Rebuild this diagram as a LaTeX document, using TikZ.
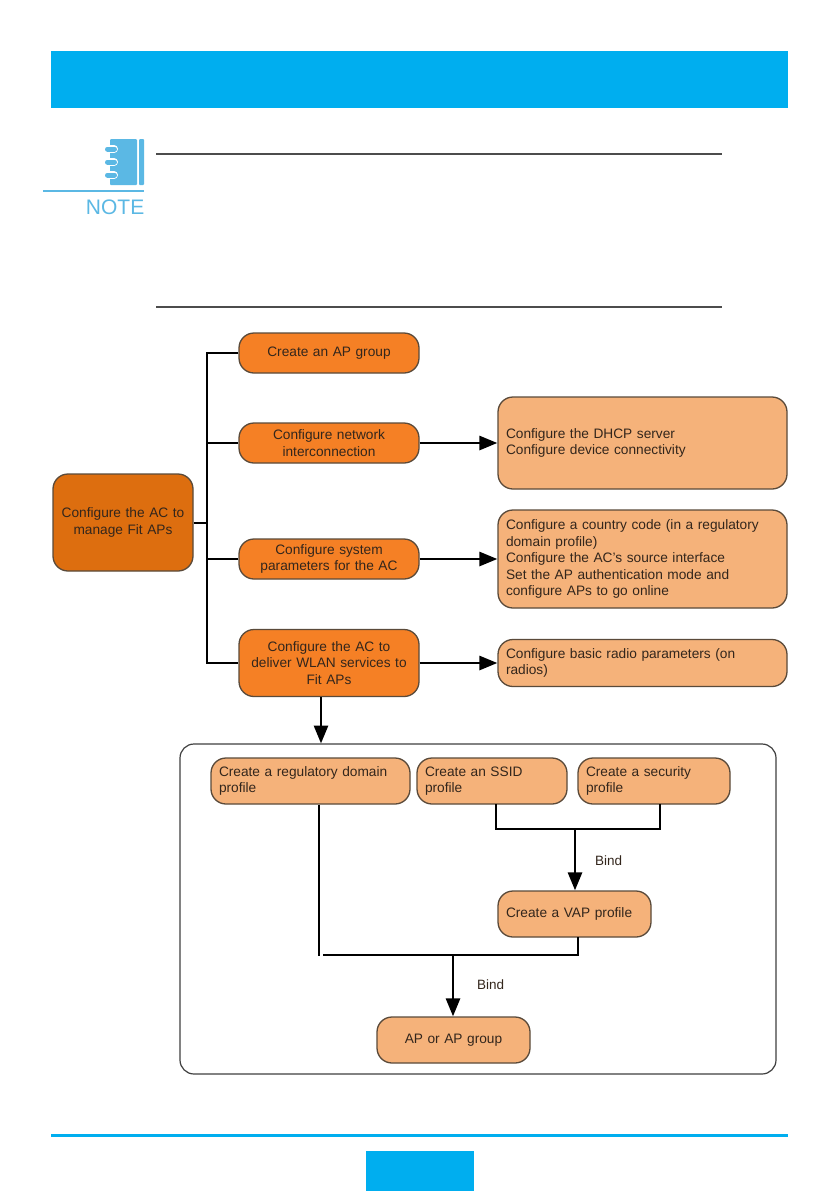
\documentclass[tikz,border=0pt]{standalone}
\usepackage{fontspec}
\setmainfont{Liberation Sans}
\usetikzlibrary{arrows.meta,calc}
\definecolor{hdrblue}{HTML}{00AEEF}
\definecolor{noteblue}{HTML}{5BB8E4}
\definecolor{orangeA}{HTML}{F58025}
\definecolor{orangeB}{HTML}{DD6E0F}
\definecolor{orangeC}{HTML}{F5B27A}
\definecolor{edgeC}{HTML}{5A4A3A}
\definecolor{textC}{HTML}{33261C}
\tikzset{
  x=1pt,y=-1pt,
  basebox/.style={draw=edgeC,line width=1.3pt,rounded corners=15pt,inner ysep=0pt,inner xsep=8pt,
    text=textC,font=\fontsize{13.7}{16.5}\selectfont},
  midbox/.style={basebox,fill=orangeA,align=center},
  rootbox/.style={basebox,fill=orangeB,align=center},
  lightbox/.style={basebox,fill=orangeC,align=left},
  conn/.style={draw=black,line width=2.8pt},
  arr/.style={conn,-{Triangle[length=18pt,width=14pt]}},
  rulegray/.style={draw=black!70,line width=1.4pt},
  lbl/.style={text=textC,font=\fontsize{13.5}{15}\selectfont,inner sep=0pt},
}
\begin{document}
\begin{tikzpicture}
\useasboundingbox (0,0) rectangle (839,1191);
\fill[white] (0,0) rectangle (839,1191);
% page furniture
\fill[hdrblue] (51,51) rectangle (788,108);
\fill[hdrblue] (51,1133.5) rectangle (788,1136.5);
\fill[hdrblue] (366,1151) rectangle (474,1191);
\draw[rulegray] (156,154) -- (722,154);
\draw[rulegray] (156,307) -- (722,307);
% note icon
\fill[noteblue,rounded corners=1pt] (110,139) rectangle (137,185);
\fill[noteblue,rounded corners=1pt] (139,139) rectangle (144,185);
\foreach \yy in {149,162,175}{
  \draw[white,line width=8pt,line cap=round] (108,\yy) -- (114,\yy);
  \draw[noteblue,line width=5pt,line cap=round] (107.5,\yy) -- (114.5,\yy);
}
\fill[noteblue] (43,190) rectangle (144,192);
\node[anchor=base east,text=noteblue,inner sep=0pt,font=\fontsize{21}{21}\selectfont] (notelabel) at (144.5,214.5) {NOTE};
% container
\node[draw=black!75,line width=1.2pt,rounded corners=14pt,minimum width=596pt,minimum height=330pt,inner sep=0pt] (panel) at (478,909) {};
% first tier
\node[rootbox,text width=124pt,minimum height=97pt] (root) at (123,522.5) {Configure the AC to\\manage Fit APs};
\node[midbox,text width=164pt,minimum height=40pt] (apgroup) at (329,353) {Create an AP group};
\node[midbox,text width=164pt,minimum height=40pt] (network) at (329,443) {Configure network\\interconnection};
\node[midbox,text width=164pt,minimum height=40pt] (system) at (329,559) {Configure system\\parameters for the AC};
\node[midbox,text width=164pt,minimum height=67pt] (deliver) at (329,663) {Configure the AC to\\deliver WLAN services to\\Fit APs};
% right tier
\node[lightbox,text width=273pt,minimum height=92pt] (dhcp) at (642.5,443) {Configure the DHCP server\\Configure device connectivity};
\node[lightbox,text width=273pt,minimum height=98pt] (country) at (642.5,559) {Configure a country code (in a regulatory\\domain profile)\\Configure the AC's source interface\\Set the AP authentication mode and\\configure APs to go online};
\node[lightbox,text width=273pt,minimum height=47pt] (radio) at (642.5,663) {Configure basic radio parameters (on\\radios)};
% panel boxes
\node[lightbox,text width=183pt,minimum height=46pt] (regdom) at (310.5,781) {Create a regulatory domain\\profile};
\node[lightbox,text width=134pt,minimum height=46pt] (ssid) at (492,781) {Create an SSID\\profile};
\node[lightbox,text width=136pt,minimum height=46pt] (security) at (654,781) {Create a security\\profile};
\node[lightbox,text width=137pt,minimum height=46pt] (vap) at (574.5,914) {Create a VAP profile};
\node[midbox,fill=orangeC,text width=137pt,minimum height=46pt] (apnode) at (453.5,1040) {AP or AP group};
\node[lbl,anchor=west] (bindA) at (595,861) {Bind};
\node[lbl,anchor=west] (bindB) at (477,985) {Bind};
% junctions
\coordinate (trunkTop) at (207,353);
\coordinate (trunkBot) at (207,663);
\coordinate (trunkMid) at (207,522.5);
\coordinate (mergeA) at (575,829);
\coordinate (mergeB) at (453,955);
\coordinate (regEnd) at (319,956);
\coordinate (mergeL) at (323,955);
% connectors
\draw[conn] (apgroup.west) -- (trunkTop) -- (trunkBot) -- (deliver.west);
\draw[draw=black,line width=2pt] (root.east) -- (trunkMid);
\draw[conn] (trunkTop |- network.west) -- (network.west);
\draw[conn] (trunkTop |- system.west) -- (system.west);
\draw[arr] (network.east) -- (dhcp.west);
\draw[arr] (system.east) -- (country.west);
\draw[arr] (deliver.east) -- (radio.west);
\draw[arr] (321,697) -- (321,743.5);
\draw[conn] (regEnd |- regdom.south) -- (regEnd);
\draw[conn] (496,804) -- (496,829) -- (660,829) -- (660,804);
\draw[arr] (mergeA) -- (mergeA |- vap.north);
\draw[conn] (578,937) -- (578,955) -- (mergeL);
\draw[arr] (mergeB) -- (mergeB |- apnode.north);
\end{tikzpicture}
\end{document}
